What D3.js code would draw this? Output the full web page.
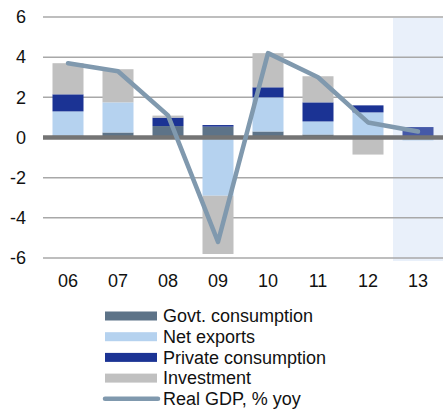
<!DOCTYPE html>
<html>
<head>
<meta charset="utf-8">
<script src="https://cdn.jsdelivr.net/npm/d3@7"></script>
<style>
  body { margin: 0; background: #fff; }
  text { font-family: "Liberation Sans", Arial, sans-serif; fill: #111; }
</style>
</head>
<body>
<div id="chart"></div>
<script>
// Data
const years = ["06", "07", "08", "09", "10", "11", "12", "13"];
const govt = [0.1, 0.25, 0.57, 0.54, 0.3, 0.15, 0.05, 0.0];
const netExports = [1.2, 1.5, 0.0, -2.9, 1.7, 0.65, 1.2, -0.15];
const privateCons = [0.85, 0.0, 0.42, 0.08, 0.5, 0.95, 0.35, 0.52];
const investment = [1.55, 1.65, 0.1, -2.9, 1.7, 1.3, -0.85, 0.0];
const realGdp = [3.7, 3.3, 1.1, -5.2, 4.2, 3.0, 0.75, 0.3];
const yTicks = [-6, -4, -2, 0, 2, 4, 6];
const forecastYear = "13";

const series = [
  { key: "govt", label: "Govt. consumption", color: "#5d7388", values: govt },
  { key: "net", label: "Net exports", color: "#b5d2ef", values: netExports },
  { key: "priv", label: "Private consumption", color: "#1b3394", values: privateCons },
  { key: "inv", label: "Investment", color: "#c0c0c0", values: investment }
];

const W = 443, H = 411;
const margin = { top: 17, right: 0, bottom: 153, left: 43 };
const width = W - margin.left - margin.right;
const height = H - margin.top - margin.bottom;

const svg = d3.select("#chart").append("svg")
  .attr("width", W).attr("height", H);
const g = svg.append("g")
  .attr("transform", "translate(" + margin.left + "," + margin.top + ")");

const x = d3.scaleBand().domain(years).range([0, width]).paddingInner(0.38).paddingOuter(0.19);
const y = d3.scaleLinear().domain([-6, 6]).range([height, 0]);

// forecast shading
const step = x.step();
g.append("rect")
  .attr("x", x(forecastYear) - (step - x.bandwidth()) / 2)
  .attr("y", y(6) + 1)
  .attr("width", width - (x(forecastYear) - (step - x.bandwidth()) / 2))
  .attr("height", y(-6) - y(6) + 2)
  .attr("fill", "#e9f0fa");

// gridlines
g.selectAll(".grid").data(yTicks.filter(d => d !== 0)).enter().append("line")
  .attr("x1", 0).attr("x2", width)
  .attr("y1", d => y(d)).attr("y2", d => y(d))
  .attr("stroke", "#a8a8a8").attr("stroke-width", 1.5);

// stacked bars: positives stack up, negatives stack down
years.forEach((yr, i) => {
  let pos = 0, neg = 0;
  series.forEach(s => {
    const v = s.values[i];
    if (v === 0) return;
    let y0, y1;
    if (v > 0) { y0 = pos; y1 = pos + v; pos = y1; }
    else { y0 = neg; y1 = neg + v; neg = y1; }
    g.append("rect")
      .attr("x", x(yr))
      .attr("width", x.bandwidth())
      .attr("y", y(Math.max(y0, y1)))
      .attr("height", Math.abs(y(y0) - y(y1)))
      .attr("fill", s.color)
      .attr("fill-opacity", yr === forecastYear ? 0.8 : 1);
  });
});

// zero line
g.append("line")
  .attr("x1", 0).attr("x2", width)
  .attr("y1", y(0)).attr("y2", y(0))
  .attr("stroke", "#747474").attr("stroke-width", 4.5);

// GDP line
const line = d3.line()
  .x((d, i) => x(years[i]) + x.bandwidth() / 2)
  .y(d => y(d));
g.append("path")
  .datum(realGdp)
  .attr("d", line)
  .attr("fill", "none")
  .attr("stroke", "#8099ae")
  .attr("stroke-width", 4.5)
  .attr("stroke-linejoin", "round")
  .attr("stroke-linecap", "round");

// y axis labels
g.selectAll(".ylab").data(yTicks).enter().append("text")
  .attr("x", -17)
  .attr("y", d => y(d))
  .attr("dy", "0.35em")
  .attr("text-anchor", "end")
  .attr("font-size", "18px")
  .text(d => d);

// x axis labels
g.selectAll(".xlab").data(years).enter().append("text")
  .attr("x", d => x(d) + x.bandwidth() / 2)
  .attr("y", height + 29)
  .attr("text-anchor", "middle")
  .attr("font-size", "18px")
  .text(d => d);

// legend
const legendItems = series.map(s => ({ label: s.label, color: s.color, type: "rect" }))
  .concat([{ label: "Real GDP, % yoy", color: "#8099ae", type: "line" }]);
const legend = svg.append("g").attr("transform", "translate(105,316)");
legendItems.forEach((d, i) => {
  const row = legend.append("g").attr("transform", "translate(0," + (i * 20.7) + ")");
  if (d.type === "rect") {
    row.append("rect").attr("x", 0).attr("y", -4.5).attr("width", 52).attr("height", 9).attr("fill", d.color);
  } else {
    row.append("line").attr("x1", 0).attr("x2", 53).attr("y1", 0).attr("y2", 0)
      .attr("stroke", d.color).attr("stroke-width", 4.5).attr("stroke-linecap", "round");
  }
  row.append("text").attr("x", 58).attr("y", 6.3)
    .attr("font-size", "18px").text(d.label);
});
</script>
</body>
</html>
